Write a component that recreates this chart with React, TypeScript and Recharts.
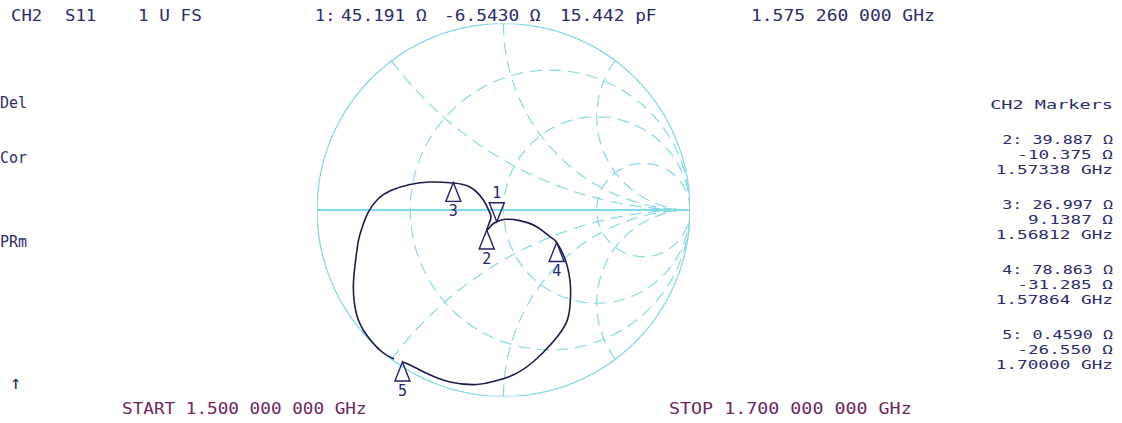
import React from 'react';
import { ScatterChart, Scatter, XAxis, YAxis, ReferenceLine } from 'recharts';

// S11 trace as reflection coefficient (re, im), 1.5 -> 1.7 GHz
const traceRe = [-0.587, -0.653, -0.734, -0.787, -0.805, -0.796, -0.779, -0.759, -0.727, -0.673, -0.598, -0.501, -0.394, -0.269, -0.18, -0.108, -0.075, -0.069, -0.088, -0.062, -0.036, 0.008, 0.088, 0.178, 0.249, 0.285, 0.335, 0.359, 0.357, 0.338, 0.265, 0.158, 0.051, -0.046, -0.142, -0.287, -0.41, -0.501, -0.542];
const traceIm = [-0.799, -0.76, -0.67, -0.563, -0.42, -0.295, -0.17, -0.097, -0.016, 0.059, 0.107, 0.137, 0.15, 0.145, 0.123, 0.054, -0.011, -0.048, -0.105, -0.08, -0.063, -0.05, -0.057, -0.09, -0.143, -0.174, -0.279, -0.408, -0.509, -0.601, -0.708, -0.815, -0.885, -0.917, -0.936, -0.922, -0.877, -0.831, -0.815];

const markerIds = ['1', '2', '3', '4', '5'];
const markerRe = [-0.036, -0.09, -0.269, 0.285, -0.542];
const markerIm = [-0.063, -0.107, 0.148, -0.174, -0.815];
const markerDown = [true, false, false, false, false];

// smith grid
const rCircles = [0, 1 / 3, 1, 3];
const xArcs = [0.5, 1, 2, -0.5, -1, -2];

const headerTexts = ['CH2', 'S11', '1 U FS', '1:', '45.191 Ω', '-6.5430 Ω', '15.442 pF', '1.575 260 000 GHz'];
const headerX = [11, 65, 138, 315, 341, 444, 560, 751];

const readoutTitle = 'CH2 Markers';
const readoutLines = [
  ['2: 39.887 Ω', '-10.375 Ω', '1.57338 GHz'],
  ['3: 26.997 Ω', '9.1387 Ω', '1.56812 GHz'],
  ['4: 78.863 Ω', '-31.285 Ω', '1.57864 GHz'],
  ['5: 0.4590 Ω', '-26.550 Ω', '1.70000 GHz'],
];

const softkeys = ['Del', 'Cor', 'PRm'];
const softkeyY = [108, 163, 247];

const startLabel = 'START 1.500 000 000 GHz';
const stopLabel = 'STOP 1.700 000 000 GHz';

const FONT = "'DejaVu Sans Mono', monospace";
const NAVY = '#2a2c6c';
const PURPLE = '#6c2763';
const CYAN = '#4fcfdf';
const CYAN_LIGHT = '#86d9e3';

const gamma = (r: number, x: number) => {
  const den = (r + 1) * (r + 1) + x * x;
  return { x: (r * r + x * x - 1) / den, y: (2 * x) / den };
};

const resistanceCircle = (r: number) => {
  const c = r / (1 + r);
  const R = 1 / (1 + r);
  const pts = [];
  for (let i = 0; i <= 180; i++) {
    const a = (i / 180) * Math.PI * 2;
    pts.push({ x: c + R * Math.cos(a), y: R * Math.sin(a) });
  }
  return pts;
};

const reactanceArc = (x: number) => {
  const pts = [];
  for (let i = 0; i <= 160; i++) {
    const t = (i / 160) * 0.995;
    pts.push(gamma(t / (1 - t), x));
  }
  pts.push({ x: 1, y: 0 });
  return pts;
};

const traceData = traceRe.map((re, i) => ({ x: re, y: traceIm[i] }));
const markerData = markerIds.map((id, i) => ({ x: markerRe[i], y: markerIm[i], id, down: markerDown[i] }));

const NoDot = () => <g />;

// wide "instrument" text: glyphs stretched to a fixed cell width
function T({ x, y, text, cw, size = 15, anchor = 'start', fill = NAVY }: any) {
  return (
    <text
      x={x}
      y={y}
      fontFamily={FONT}
      fontSize={size}
      fill={fill}
      textAnchor={anchor}
      textLength={text.length > 1 ? text.length * cw - 1.5 : undefined}
      lengthAdjust="spacingAndGlyphs"
    >
      {text}
    </text>
  );
}

function MarkerShape(props: any) {
  const { cx, cy, payload } = props;
  const w = 7.5;
  const h = 19;
  const stroke = '#23236a';
  if (payload.down) {
    const top = cy - h;
    return (
      <g>
        <path d={`M${cx},${cy} L${cx - w},${top} L${cx + w},${top} Z`} fill="none" stroke={stroke} strokeWidth={1.4} />
        <text x={cx} y={top - 5} textAnchor="middle" fontFamily={FONT} fontSize={15} fill={stroke}>{payload.id}</text>
      </g>
    );
  }
  const base = cy + h;
  return (
    <g>
      <path d={`M${cx},${cy} L${cx - w},${base} L${cx + w},${base} Z`} fill="none" stroke={stroke} strokeWidth={1.4} />
      <text x={cx} y={base + 15} textAnchor="middle" fontFamily={FONT} fontSize={15} fill={stroke}>{payload.id}</text>
    </g>
  );
}

export default function App() {
  return (
    <div style={{ position: 'fixed', left: 0, top: 0, width: 1122, height: 423, background: '#ffffff', overflow: 'hidden' }}>
      <div style={{ position: 'absolute', left: 0, top: 0 }}>
        <ScatterChart width={1122} height={423} margin={{ top: 23.5, right: 432, bottom: 26.5, left: 317 }}>
          <XAxis type="number" dataKey="x" domain={[-1, 1]} allowDataOverflow hide />
          <YAxis type="number" dataKey="y" domain={[-1, 1]} allowDataOverflow hide />
          {rCircles.map((r) => (
            <Scatter
              key={'r' + r}
              data={resistanceCircle(r)}
              shape={NoDot}
              line={r === 0 ? { stroke: CYAN_LIGHT, strokeWidth: 1.3 } : { stroke: CYAN_LIGHT, strokeWidth: 1.2, strokeDasharray: '12 7' }}
              lineJointType="linear"
              isAnimationActive={false}
            />
          ))}
          {xArcs.map((x) => (
            <Scatter
              key={'x' + x}
              data={reactanceArc(x)}
              shape={NoDot}
              line={{ stroke: CYAN_LIGHT, strokeWidth: 1.2, strokeDasharray: '12 7' }}
              lineJointType="linear"
              isAnimationActive={false}
            />
          ))}
          <ReferenceLine y={0} stroke={CYAN} strokeWidth={1.6} />
          <Scatter
            data={traceData}
            shape={NoDot}
            line={{ stroke: '#1b1b4e', strokeWidth: 1.6 }}
            lineJointType="natural"
            isAnimationActive={false}
          />
          <Scatter data={markerData} shape={MarkerShape} isAnimationActive={false} />
        </ScatterChart>
      </div>
      <svg width={1122} height={423} style={{ position: 'absolute', left: 0, top: 0, pointerEvents: 'none' }}>
        {headerTexts.map((t, i) => (
          <T key={t} x={headerX[i]} y={21} text={t} cw={10.9} />
        ))}
        <T x={1113} y={109} text={readoutTitle} cw={11.3} size={13} anchor="end" />
        {readoutLines.map((grp, g) =>
          grp.map((t, k) => (
            <T key={g + '-' + k} x={1113} y={144 + g * 65 + k * 15} text={t} cw={k === 0 ? 10.2 : 10.8} size={13} anchor="end" />
          ))
        )}
        {softkeys.map((t, i) => (
          <T key={t} x={0} y={softkeyY[i]} text={t} cw={9.5} />
        ))}
        <text x={10} y={389} fontFamily={FONT} fontSize={19} fill={NAVY}>↑</text>
        <T x={122} y={414} text={startLabel} cw={10.7} fill={PURPLE} />
        <T x={669} y={414} text={stopLabel} cw={11.1} fill={PURPLE} />
      </svg>
    </div>
  );
}
